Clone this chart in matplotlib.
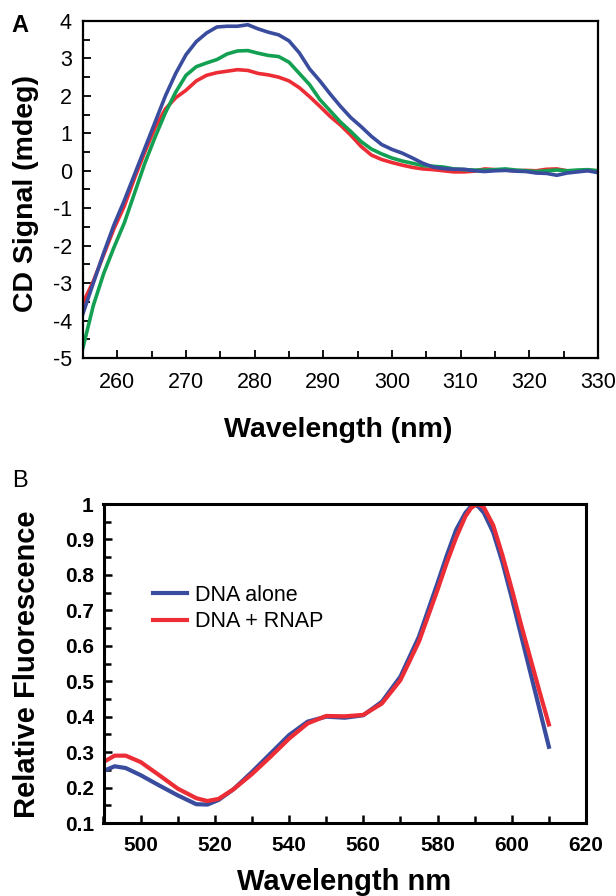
import numpy as np
import matplotlib
matplotlib.use("Agg")
import matplotlib.pyplot as plt
from matplotlib.ticker import MultipleLocator

plt.rcParams['font.family'] = ['Liberation Sans', 'DejaVu Sans']
plt.rcParams['axes.unicode_minus'] = False

# ---- panel A: CD spectra ----
wl_a = [255, 256.5, 258, 259.5, 261, 262.5, 264, 265.5, 267, 268.5, 270, 271.5, 273,
        274.5, 276, 277.5, 279, 280.5, 282, 283.5, 285, 286.5, 288, 289.5, 291, 292.5,
        294, 295.5, 297, 298.5, 300, 301.5, 303, 304.5, 306, 307.5, 309, 310.5, 312,
        313.5, 315, 316.5, 318, 319.5, 321, 322.5, 324, 325.5, 327, 328.5, 330]
cd_blue = [-3.81, -3.0, -2.2, -1.45, -0.8, -0.1, 0.6, 1.3, 2.0, 2.6, 3.1, 3.45, 3.68,
           3.84, 3.86, 3.86, 3.9, 3.79, 3.7, 3.63, 3.47, 3.15, 2.72, 2.4, 2.05, 1.72,
           1.42, 1.18, 0.92, 0.7, 0.57, 0.47, 0.34, 0.2, 0.1, 0.06, 0.04, 0.04, 0.0,
           -0.02, 0.0, 0.01, -0.01, -0.02, -0.06, -0.07, -0.12, -0.06, -0.03, 0.0, -0.05]
cd_green = [-4.72, -3.6, -2.75, -2.05, -1.4, -0.6, 0.2, 0.9, 1.55, 2.1, 2.55, 2.78, 2.88,
            2.97, 3.12, 3.2, 3.21, 3.14, 3.08, 3.05, 2.9, 2.6, 2.3, 1.9, 1.6, 1.3,
            1.05, 0.78, 0.58, 0.45, 0.34, 0.26, 0.2, 0.14, 0.12, 0.1, 0.05, 0.03, 0.02,
            0.02, 0.03, 0.05, 0.02, 0.0, -0.02, 0.0, 0.02, 0.0, 0.02, 0.03, 0.0]
cd_red = [-3.53, -2.95, -2.25, -1.55, -0.95, -0.2, 0.5, 1.15, 1.65, 1.95, 2.15, 2.4, 2.55,
          2.62, 2.66, 2.7, 2.68, 2.6, 2.56, 2.5, 2.4, 2.22, 1.98, 1.72, 1.45, 1.22,
          0.95, 0.65, 0.42, 0.3, 0.22, 0.15, 0.09, 0.05, 0.03, 0.0, -0.03, -0.03, -0.01,
          0.05, 0.03, 0.02, 0.0, 0.01, 0.0, 0.04, 0.05, 0.0, 0.0, 0.01, 0.0]

# ---- panel B: fluorescence ----
wl_b = [490, 493, 496, 500, 505, 510, 515, 518, 521, 525, 530, 535, 540, 545, 550,
        555, 560, 565, 570, 575, 580, 582.5, 585, 587.5, 589, 590, 591, 592.5, 595,
        597.5, 600, 602.5, 605, 607.5, 610]
fl_dna = [0.247, 0.26, 0.255, 0.235, 0.206, 0.178, 0.153, 0.152, 0.165, 0.195, 0.244,
          0.296, 0.348, 0.386, 0.4, 0.397, 0.404, 0.442, 0.513, 0.626, 0.777, 0.855,
          0.927, 0.975, 0.993, 0.998, 0.993, 0.975, 0.92, 0.835, 0.735, 0.63, 0.525,
          0.42, 0.315]
fl_rnap = [0.272, 0.29, 0.29, 0.272, 0.235, 0.197, 0.17, 0.162, 0.168, 0.195, 0.238,
           0.287, 0.338, 0.381, 0.402, 0.401, 0.405, 0.437, 0.503, 0.612, 0.758, 0.835,
           0.905, 0.965, 0.988, 0.996, 1.0, 0.99, 0.94, 0.855, 0.76, 0.66, 0.565,
           0.47, 0.378]
legend_labels = ["DNA alone", "DNA + RNAP"]

BLUE = "#3a4c9e"
GREEN = "#13a052"
RED = "#ec2d35"

fig = plt.figure(figsize=(6.16, 8.96), dpi=100)

# panel A
axA = fig.add_axes([83/616, 1-358/896, 515/616, 337/896])
axA.plot(wl_a, cd_red, color=RED, lw=2.6)
axA.plot(wl_a, cd_green, color=GREEN, lw=2.6)
axA.plot(wl_a, cd_blue, color=BLUE, lw=2.6)
axA.set_xlim(255, 330)
axA.set_ylim(-5, 4)
axA.xaxis.set_major_locator(MultipleLocator(10))
axA.xaxis.set_minor_locator(MultipleLocator(5))
axA.yaxis.set_major_locator(MultipleLocator(1))
axA.yaxis.set_minor_locator(MultipleLocator(0.5))
for s in axA.spines.values():
    s.set_linewidth(1.6)
axA.tick_params(which='both', direction='in', top=False, right=False, width=1.3)
axA.tick_params(which='major', length=6, labelsize=15.5)
axA.tick_params(which='minor', length=5)
axA.tick_params(axis='x', which='major', pad=10)
axA.tick_params(axis='y', which='major', pad=8)
fig.text(26/616, 1-193/896, "CD Signal (mdeg)", rotation=90, ha='center', va='center',
         fontsize=20.5, fontweight='bold')
fig.text(338/616, 1-430/896, "Wavelength (nm)", ha='center', va='center',
         fontsize=20.5, fontweight='bold')
fig.text(20/616, 1-25/896, "A", ha='center', va='center', fontsize=17, fontweight='bold')

# panel B
axB = fig.add_axes([103.5/616, 1-823/896, 482.5/616, 319/896])
axB.plot(wl_b, fl_dna, color=BLUE, lw=3.0, label=legend_labels[0])
axB.plot(wl_b, fl_rnap, color=RED, lw=3.0, label=legend_labels[1])
axB.set_xlim(490, 620)
axB.set_ylim(0.1, 1.0)
axB.xaxis.set_major_locator(MultipleLocator(20))
axB.xaxis.set_minor_locator(MultipleLocator(10))
axB.yaxis.set_major_locator(MultipleLocator(0.1))
axB.yaxis.set_minor_locator(MultipleLocator(0.05))
axB.yaxis.set_major_formatter(lambda v, p: "1" if abs(v-1) < 1e-6 else f"{v:.1f}")
for s in axB.spines.values():
    s.set_linewidth(2.2)
axB.tick_params(which='both', direction='in', top=False, right=False, width=1.8)
axB.tick_params(which='major', length=6, labelsize=15)
axB.tick_params(which='minor', length=5)
axB.tick_params(axis='x', which='major', pad=9)
axB.tick_params(axis='y', which='major', pad=7)
for lab in axB.get_xticklabels() + axB.get_yticklabels():
    lab.set_fontweight('bold')
leg = axB.legend(loc='center left', bbox_to_anchor=(0.1026, 0.672), frameon=False,
                 fontsize=15.5, handlelength=1.6, handletextpad=0.35, labelspacing=0.25,
                 borderpad=0, borderaxespad=0)
fig.text(27/616, 1-664/896, "Relative Fluorescence", rotation=90, ha='center', va='center',
         fontsize=21, fontweight='bold')
fig.text(344/616, 1-882/896, "Wavelength nm", ha='center', va='center',
         fontsize=21, fontweight='bold')
fig.text(20/616, 1-481/896, "B", ha='center', va='center', fontsize=17)

fig.savefig("out.png", dpi=100)
